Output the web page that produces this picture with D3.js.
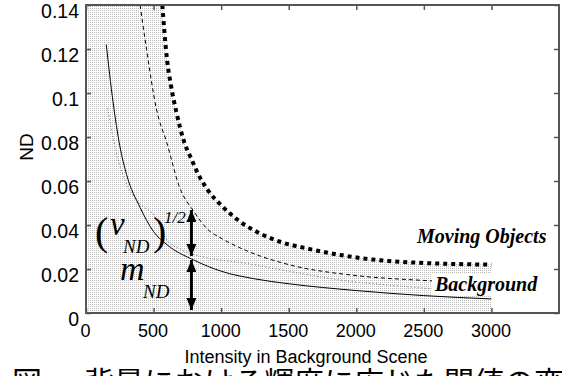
<!DOCTYPE html>
<html>
<head>
<meta charset="utf-8">
<script src="https://cdn.jsdelivr.net/npm/d3@7"></script>
<style>
	body { margin: 0; background: #fff; }
	svg { display: block; }
</style>
</head>
<body>
<div id="chart"></div>
<script>
// values (intensity, ND)
const meanND = [[150,0.122],[200,0.096],[250,0.076],[300,0.063],[400,0.048],[500,0.037],[600,0.031],[800,0.024],[1000,0.019],[1250,0.0155],[1500,0.0133],[2000,0.0102],[2500,0.0079],[3000,0.0064]];
const bgThreshold = [[400,0.14],[450,0.119],[520,0.093],[600,0.077],[690,0.0575],[800,0.046],[900,0.038],[1000,0.034],[1200,0.028],[1500,0.022],[2000,0.017],[2500,0.0148],[3000,0.0135]];
const movingThreshold = [[565,0.14],[580,0.128],[600,0.115],[630,0.103],[670,0.091],[720,0.079],[780,0.07],[840,0.062],[900,0.056],[1000,0.049],[1130,0.042],[1260,0.037],[1430,0.0325],[1630,0.0294],[1880,0.0264],[2120,0.0243],[2470,0.0228],[3000,0.022]];
const samples = [[160,0.093],[220,0.074],[290,0.06],[380,0.051],[520,0.043],[600,0.033],[700,0.029],[900,0.025],[1140,0.023],[1500,0.019],[1880,0.015],[2370,0.012],[2900,0.0095]];
const arrowAt = 780, arrowMean = 0.025, arrowTop = 0.0468;

const xTicks = [0, 500, 1000, 1500, 2000, 2500, 3000];
const yTicks = [0, 0.02, 0.04, 0.06, 0.08, 0.1, 0.12, 0.14];
const yTickLabels = ['0', '0.02', '0.04', '0.06', '0.08', '0.1', '0.12', '0.14'];

const W = 562, H = 376;
const sans = '"Liberation Sans", Arial, sans-serif';
const xScale = d3.scaleLinear().domain([0, 3500]).range([86, 559]);
const yScale = d3.scaleLinear().domain([0, 0.14]).range([313, 5]);

const svg = d3.select('#chart').append('svg').attr('width', W).attr('height', H);

const defs = svg.append('defs');
const pat = defs.append('pattern').attr('id', 'stipple').attr('patternUnits', 'userSpaceOnUse').attr('width', 2).attr('height', 2);
pat.append('rect').attr('width', 2).attr('height', 2).attr('fill', '#fff');
pat.append('rect').attr('width', 1).attr('height', 1).attr('fill', '#b8b8b8');
defs.append('clipPath').attr('id', 'plot').append('rect')
	.attr('x', xScale(0)).attr('y', yScale(0.14)).attr('width', xScale(3500)-xScale(0)).attr('height', yScale(0)-yScale(0.14));

const head = (id, orient) => {
	defs.append('marker').attr('id', id).attr('markerUnits', 'userSpaceOnUse')
		.attr('viewBox', '0 0 12 10').attr('refX', 12).attr('refY', 5)
		.attr('markerWidth', 12).attr('markerHeight', 10).attr('orient', orient)
		.append('path').attr('d', 'M0,0L12,5L0,10Z').attr('fill', '#000');
};
head('arrEnd', 'auto');
head('arrStart', 'auto-start-reverse');

const g = svg.append('g').attr('clip-path', 'url(#plot)');

// shaded region below moving-object threshold
const areaData = [[0, 0.14]].concat(movingThreshold);
g.append('path').datum(areaData)
	.attr('fill', 'url(#stipple)')
	.attr('d', d3.area().x(d=>xScale(d[0])).y0(yScale(0)).y1(d=>yScale(d[1])));

const line = d3.line().x(d=>xScale(d[0])).y(d=>yScale(d[1])).curve(d3.curveMonotoneX);

g.append('path').datum(samples).attr('fill', 'none').attr('stroke', '#666').attr('stroke-width', 1).attr('stroke-dasharray', '1,2.5').attr('d', line);
g.append('path').datum(meanND).attr('fill', 'none').attr('stroke', '#000').attr('stroke-width', 1).attr('d', line);
g.append('path').datum(bgThreshold).attr('fill', 'none').attr('stroke', '#000').attr('stroke-width', 1).attr('stroke-dasharray', '4,3').attr('d', line);
g.append('path').datum(movingThreshold).attr('fill', 'none').attr('stroke', '#000').attr('stroke-width', 4).attr('stroke-dasharray', '4,4').attr('d', line);

// double arrows: std and mean
svg.append('line').attr('x1', xScale(arrowAt)).attr('x2', xScale(arrowAt))
	.attr('y1', yScale(arrowTop)).attr('y2', yScale(arrowMean) - 2)
	.attr('stroke', '#000').attr('stroke-width', 3)
	.attr('marker-start', 'url(#arrStart)').attr('marker-end', 'url(#arrEnd)');
svg.append('line').attr('x1', xScale(arrowAt)).attr('x2', xScale(arrowAt))
	.attr('y1', yScale(arrowMean) + 2).attr('y2', yScale(0) - 3)
	.attr('stroke', '#000').attr('stroke-width', 3)
	.attr('marker-start', 'url(#arrStart)').attr('marker-end', 'url(#arrEnd)');

// axes (ticks inward)
const xAxis = svg.append('g').attr('transform', `translate(0,${yScale(0)})`)
	.call(d3.axisBottom(xScale).tickValues(xTicks).tickSize(-5).tickSizeOuter(0).tickPadding(11).tickFormat(d3.format('d')));
const xTop = svg.append('g').attr('transform', `translate(0,${yScale(0.14)})`)
	.call(d3.axisTop(xScale).tickValues(xTicks).tickSize(-5).tickSizeOuter(0).tickFormat(''));
const yAxis = svg.append('g').attr('transform', `translate(${xScale(0)},0)`)
	.call(d3.axisLeft(yScale).tickValues(yTicks).tickSize(-5).tickSizeOuter(0).tickPadding(7).tickFormat((d,i)=>yTickLabels[i]));
const yRight = svg.append('g').attr('transform', `translate(${xScale(3500)},0)`)
	.call(d3.axisRight(yScale).tickValues(yTicks).tickSize(-5).tickSizeOuter(0).tickFormat(''));
[xAxis, xTop, yAxis, yRight].forEach(a => {
	a.select('.domain').remove();
	a.attr('font-family', sans);
	a.selectAll('.tick line').attr('stroke', '#555').attr('stroke-width', 1.5);
	a.selectAll('.tick text').attr('fill', '#000');
});
xAxis.attr('font-size', 18);
xAxis.selectAll('.tick text').attr('x', -1);
yAxis.attr('font-size', 19.5);
yAxis.selectAll('.tick text').attr('dy', '0.32em').attr('y', 6.5);

svg.append('rect').attr('x', xScale(0)).attr('y', yScale(0.14))
	.attr('width', xScale(3500)-xScale(0)).attr('height', yScale(0)-yScale(0.14))
	.attr('fill', 'none').attr('stroke', '#555').attr('stroke-width', 2);

// axis titles
svg.append('text').attr('transform', 'translate(33,147) rotate(-90)').attr('text-anchor', 'middle')
	.style('font-family', sans).style('font-size', '19px').text('ND');
svg.append('text').attr('x', 306).attr('y', 363).attr('text-anchor', 'middle')
	.style('font-family', sans).style('font-size', '18px').text('Intensity in Background Scene');

// math annotations
const serif = '"Liberation Serif", "Times New Roman", serif';
const math = (x, y, size, txt, italic) => svg.append('text').attr('x', x).attr('y', y)
	.style('font-family', serif).style('font-size', size + 'px').style('font-style', italic ? 'italic' : 'normal').text(txt);
math(95, 245, 40, '(', false);
math(110, 235, 33, 'v', true);
math(123, 253, 19, 'ND', true);
math(153, 245, 40, ')', false);
math(164, 223, 17, '1/2', true);
math(120, 280, 34, 'm', true);
math(143, 298, 19, 'ND', true);

// series labels
svg.append('rect').attr('x', 432).attr('y', 274).attr('width', 110).attr('height', 21).attr('fill', '#fff');
svg.append('text').attr('x', 417).attr('y', 243)
	.style('font-family', serif).style('font-size', '20px').style('font-weight', 'bold').style('font-style', 'italic').text('Moving Objects');
svg.append('text').attr('x', 435).attr('y', 291)
	.style('font-family', serif).style('font-size', '20px').style('font-weight', 'bold').style('font-style', 'italic').text('Background');

// caption (cut off at the bottom edge)
const cjk = '"Noto Sans CJK JP", "Noto Sans CJK SC", sans-serif';
svg.append('text').attr('x', 12).attr('y', 393).style('font-family', cjk).style('font-size', '30px').text('図');
svg.append('text').attr('x', 84).attr('y', 393).style('font-family', cjk).style('font-size', '30px').text('背景における輝度に応じた閾値の変化');
</script>
</body>
</html>
